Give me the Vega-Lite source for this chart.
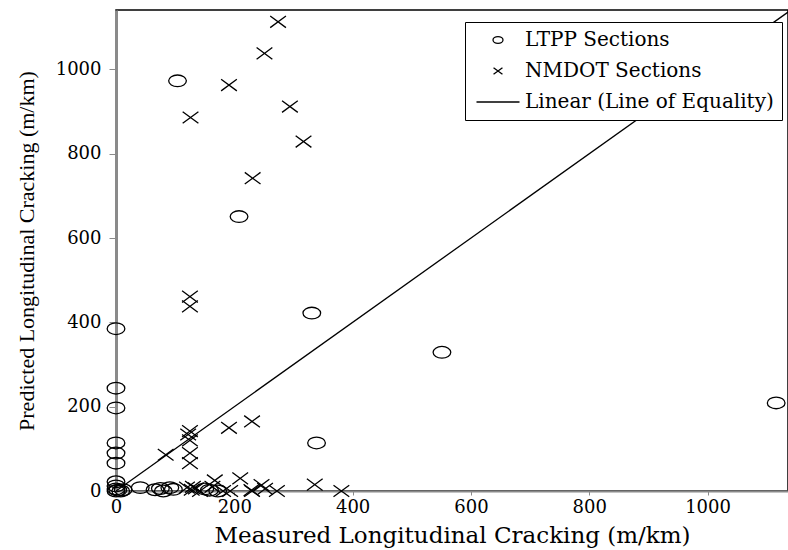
{
  "$schema": "https://vega.github.io/schema/vega-lite/v6.json",
  "width": 672,
  "height": 481,
  "autosize": {"type": "none"},
  "padding": {"left": 116, "top": 10, "right": 0, "bottom": 59},
  "background": "white",
  "config": {
    "view": {"stroke": "black", "strokeWidth": 1.5},
    "font": "DejaVu Serif"
  },
  "datasets": {
    "sections": [
      {"series": "LTPP Sections", "measured": 0, "predicted": 385},
      {"series": "LTPP Sections", "measured": 0, "predicted": 244},
      {"series": "LTPP Sections", "measured": 0, "predicted": 197},
      {"series": "LTPP Sections", "measured": 0, "predicted": 114},
      {"series": "LTPP Sections", "measured": 0, "predicted": 90},
      {"series": "LTPP Sections", "measured": 0, "predicted": 66},
      {"series": "LTPP Sections", "measured": 0, "predicted": 22},
      {"series": "LTPP Sections", "measured": 0, "predicted": 12},
      {"series": "LTPP Sections", "measured": 0, "predicted": 5},
      {"series": "LTPP Sections", "measured": 0, "predicted": 0},
      {"series": "LTPP Sections", "measured": 3, "predicted": 2},
      {"series": "LTPP Sections", "measured": 8, "predicted": 0},
      {"series": "LTPP Sections", "measured": 12, "predicted": 3},
      {"series": "LTPP Sections", "measured": 41, "predicted": 8},
      {"series": "LTPP Sections", "measured": 66, "predicted": 3},
      {"series": "LTPP Sections", "measured": 75, "predicted": 6},
      {"series": "LTPP Sections", "measured": 80, "predicted": 0},
      {"series": "LTPP Sections", "measured": 91, "predicted": 8},
      {"series": "LTPP Sections", "measured": 97, "predicted": 4},
      {"series": "LTPP Sections", "measured": 104, "predicted": 973},
      {"series": "LTPP Sections", "measured": 150, "predicted": 5},
      {"series": "LTPP Sections", "measured": 158, "predicted": 2},
      {"series": "LTPP Sections", "measured": 172, "predicted": 0},
      {"series": "LTPP Sections", "measured": 208, "predicted": 651},
      {"series": "LTPP Sections", "measured": 331, "predicted": 422},
      {"series": "LTPP Sections", "measured": 339, "predicted": 114},
      {"series": "LTPP Sections", "measured": 551, "predicted": 329},
      {"series": "LTPP Sections", "measured": 1116, "predicted": 209},
      {"series": "NMDOT Sections", "measured": 274, "predicted": 1113},
      {"series": "NMDOT Sections", "measured": 251, "predicted": 1038},
      {"series": "NMDOT Sections", "measured": 191, "predicted": 963},
      {"series": "NMDOT Sections", "measured": 294, "predicted": 912},
      {"series": "NMDOT Sections", "measured": 126, "predicted": 886},
      {"series": "NMDOT Sections", "measured": 317, "predicted": 829},
      {"series": "NMDOT Sections", "measured": 231, "predicted": 742},
      {"series": "NMDOT Sections", "measured": 125, "predicted": 461},
      {"series": "NMDOT Sections", "measured": 125, "predicted": 438},
      {"series": "NMDOT Sections", "measured": 125, "predicted": 142},
      {"series": "NMDOT Sections", "measured": 122, "predicted": 134},
      {"series": "NMDOT Sections", "measured": 125, "predicted": 120},
      {"series": "NMDOT Sections", "measured": 125, "predicted": 90},
      {"series": "NMDOT Sections", "measured": 125, "predicted": 66},
      {"series": "NMDOT Sections", "measured": 84, "predicted": 86},
      {"series": "NMDOT Sections", "measured": 191, "predicted": 150},
      {"series": "NMDOT Sections", "measured": 230, "predicted": 165},
      {"series": "NMDOT Sections", "measured": 336, "predicted": 15},
      {"series": "NMDOT Sections", "measured": 381, "predicted": 0},
      {"series": "NMDOT Sections", "measured": 120, "predicted": 8},
      {"series": "NMDOT Sections", "measured": 128, "predicted": 3},
      {"series": "NMDOT Sections", "measured": 135, "predicted": 6},
      {"series": "NMDOT Sections", "measured": 142, "predicted": 0},
      {"series": "NMDOT Sections", "measured": 130, "predicted": 10},
      {"series": "NMDOT Sections", "measured": 163, "predicted": 10},
      {"series": "NMDOT Sections", "measured": 167, "predicted": 25},
      {"series": "NMDOT Sections", "measured": 181, "predicted": 0},
      {"series": "NMDOT Sections", "measured": 193, "predicted": 0},
      {"series": "NMDOT Sections", "measured": 210, "predicted": 30},
      {"series": "NMDOT Sections", "measured": 229, "predicted": 2},
      {"series": "NMDOT Sections", "measured": 246, "predicted": 14},
      {"series": "NMDOT Sections", "measured": 252, "predicted": 5},
      {"series": "NMDOT Sections", "measured": 272, "predicted": 0},
      {"series": "NMDOT Sections", "measured": 230, "predicted": 0}
    ],
    "equality": [
      {"measured": 0, "predicted": 0},
      {"measured": 1141, "predicted": 1141}
    ]
  },
  "encoding": {
    "x": {
      "field": "measured",
      "type": "quantitative",
      "scale": {"domain": [0, 1136], "nice": false, "zero": true},
      "axis": {
        "title": "Measured Longitudinal Cracking (m/km)",
        "values": [0, 200, 400, 600, 800, 1000],
        "format": "d",
        "grid": false,
        "domainColor": "#8a8a8a",
        "domainWidth": 2,
        "tickColor": "#8a8a8a",
        "tickSize": 4,
        "labelFlush": false,
        "labelFont": "DejaVu Serif",
        "labelFontSize": 18,
        "labelColor": "black",
        "labelPadding": 3,
        "titleFont": "DejaVu Serif",
        "titleFontSize": 23,
        "titleFontWeight": "normal",
        "titleColor": "black",
        "titlePadding": 8
      }
    },
    "y": {
      "field": "predicted",
      "type": "quantitative",
      "scale": {"domain": [0, 1141], "nice": false, "zero": true},
      "axis": {
        "title": "Predicted Longitudinal Cracking (m/km)",
        "values": [0, 200, 400, 600, 800, 1000],
        "format": "d",
        "grid": false,
        "domainColor": "#8a8a8a",
        "domainWidth": 3,
        "tickColor": "#8a8a8a",
        "tickSize": 7,
        "labelFlush": false,
        "labelFont": "DejaVu Serif",
        "labelFontSize": 18,
        "labelColor": "black",
        "labelPadding": 8,
        "titleFont": "Liberation Serif",
        "titleFontSize": 22,
        "titleFontWeight": "normal",
        "titleColor": "black",
        "titlePadding": 17
      }
    }
  },
  "layer": [
    {
      "data": {"name": "equality"},
      "mark": {"type": "line", "color": "black", "strokeWidth": 1.3, "clip": true},
      "encoding": {}
    },
    {
      "data": {"name": "sections"},
      "mark": {
        "type": "point",
        "filled": false,
        "color": "black",
        "opacity": 1,
        "strokeWidth": 1.3,
        "size": 313
      },
      "encoding": {
        "shape": {
          "field": "series",
          "type": "nominal",
          "scale": {
            "domain": ["LTPP Sections", "NMDOT Sections", "Linear (Line of Equality)"],
            "range": [
              "M-1,0A1,0.66,0,1,0,1,0A1,0.66,0,1,0,-1,0Z",
              "M-0.89,-0.66L0.89,0.66M-0.89,0.66L0.89,-0.66",
              "M-4.3,0L4.3,0"
            ]
          },
          "legend": {
            "title": null,
            "orient": "none",
            "legendX": 349,
            "legendY": 12,
            "padding": 8,
            "fillColor": "white",
            "strokeColor": "black",
            "cornerRadius": 0,
            "symbolSize": 100,
            "symbolStrokeWidth": 1.3,
            "symbolStrokeColor": "black",
            "symbolOffset": 15,
            "labelFont": "DejaVu Serif",
            "labelFontSize": 20,
            "labelColor": "black",
            "labelOffset": 17,
            "rowPadding": 11,
            "labelLimit": 400,
            "encode": {
              "legend": {"update": {"strokeWidth": {"value": 2}}}
            }
          }
        }
      }
    }
  ]
}
